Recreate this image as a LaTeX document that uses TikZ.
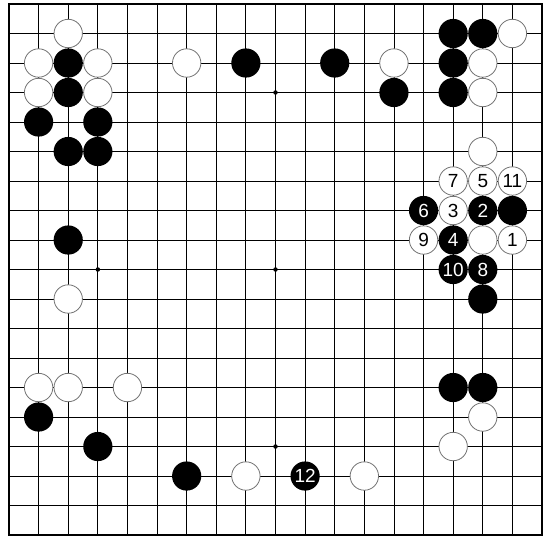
\documentclass[tikz,border=0pt]{standalone}
\usepackage{fontspec}
\setmainfont{Liberation Sans}
\begin{document}
\begin{tikzpicture}[x=29.61pt, y=-29.5pt, font=\fontsize{19}{19}\selectfont]
    \tikzstyle{wstone}=[circle,draw=black!55,line width=0.8pt,fill=white,minimum size=28.4pt,inner sep=0pt]
    \tikzstyle{bstone}=[circle,fill=black,text=white,minimum size=29.2pt,inner sep=0pt]
    \tikzstyle{hoshi}=[circle,fill=black,minimum size=4.5pt,inner sep=0pt]

    \useasboundingbox (-0.304,-0.1356) rectangle (18.27,18.17);

    % grid
    \foreach \i in {1,...,17} {
        \draw[line width=0.9pt] (\i,0) -- (\i,18);
        \draw[line width=0.9pt] (0,\i) -- (18,\i);
    }
    \draw[line width=2.2pt] (0,0) rectangle (18,18);
    \foreach \c/\r in {9/3,3/9,9/9,9/15}
        \node[hoshi] (hoshi-\c-\r) at (\c,\r) {};

    % stones
    \foreach \c/\r in {2/1,1/2,3/2,1/3,3/3,6/2,13/2,17/1,16/2,16/3,16/5,16/8,2/10,1/13,2/13,4/13,8/16,12/16,16/14,15/15}
        \node[wstone] (w-\c-\r) at (\c,\r) {};
    \foreach \c/\r in {2/2,2/3,1/4,3/4,2/5,3/5,8/2,11/2,13/3,15/1,16/1,15/2,15/3,17/7,16/10,2/8,1/14,3/15,6/16,15/13,16/13}
        \node[bstone] (b-\c-\r) at (\c,\r) {};

    % numbered moves
    \foreach \n/\c/\r in {1/17/8,3/15/7,5/16/6,7/15/6,9/14/8,11/17/6}
        \node[wstone] (m\n) at (\c,\r) {\n};
    \foreach \n/\c/\r in {2/16/7,4/15/8,6/14/7,8/16/9,10/15/9,12/10/16}
        \node[bstone] (m\n) at (\c,\r) {\n};
\end{tikzpicture}
\end{document}
